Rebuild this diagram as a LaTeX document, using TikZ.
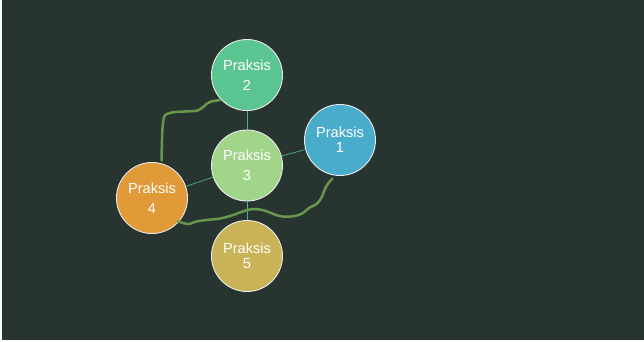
\documentclass[tikz,border=0pt]{standalone}
\usepackage{fontspec}
\setmainfont{Liberation Sans}
\definecolor{bg}{RGB}{40,52,47}
\definecolor{lk}{RGB}{70,180,140}
\definecolor{scr}{RGB}{104,150,78}
\begin{document}
\begin{tikzpicture}[x=1pt,y=-1pt,
  circ/.style={circle,draw=white!92!black,line width=0.9pt,minimum size=71pt,inner sep=0pt,text=white,font=\fontsize{14.6}{20}\selectfont,align=center},
  circt/.style={circ,font=\fontsize{14.6}{15}\selectfont},
  link/.style={draw=lk,line width=0.7pt},
  scrib/.style={draw=scr,line width=2.5pt,line cap=round,line join=round}]
\fill[white] (0,0) rectangle (644,341);
\fill[bg] (2,0) rectangle (644,340);
\useasboundingbox (0,0) rectangle (644,341);
\node[circ,fill={rgb,255:red,90;green,197;blue,145}] (p2) at (247,75) {Praksis\\2};
\node[circ,fill={rgb,255:red,160;green,213;blue,138}] (p3) at (247,165.5) {Praksis\\3};
\node[circt,fill={rgb,255:red,74;green,172;blue,203}] (p1) at (340,140) {Praksis\\1};
\node[circ,fill={rgb,255:red,224;green,154;blue,56}] (p4) at (152,198) {Praksis\\4};
\node[circt,fill={rgb,255:red,201;green,179;blue,86}] (p5) at (247,256) {Praksis\\5};
\draw[link] (p2) -- (p3);
\draw[link] (p3) -- (p1);
\draw[link] (p3) -- (p4);
\draw[link] (p3) -- (p5);
\coordinate (s1) at (161.5,160.5);
\coordinate (e1) at (220,100);
\coordinate (s2) at (178,221.5);
\coordinate (e2) at (332.5,178.5);
\draw[scrib] (s1) .. controls (162,140) and (162,125) .. (164,117)
  .. controls (166,111) and (180,112) .. (195,111)
  .. controls (203,110) and (205,103) .. (211,101.5)
  .. controls (214,100.5) and (217,101) .. (e1);
\draw[scrib] (s2) .. controls (184,223) and (187,225) .. (191,223.5)
  .. controls (195,221) and (205,220) .. (217,219)
  .. controls (230,217) and (238,213) .. (247,210)
  .. controls (260,207) and (268,212) .. (276,215)
  .. controls (285,218) and (296,217) .. (303,213)
  .. controls (307,210) and (309,207) .. (313,206)
  .. controls (320,203) and (322,197) .. (325,189)
  .. controls (327,184) and (330,181) .. (e2);
\end{tikzpicture}
\end{document}
